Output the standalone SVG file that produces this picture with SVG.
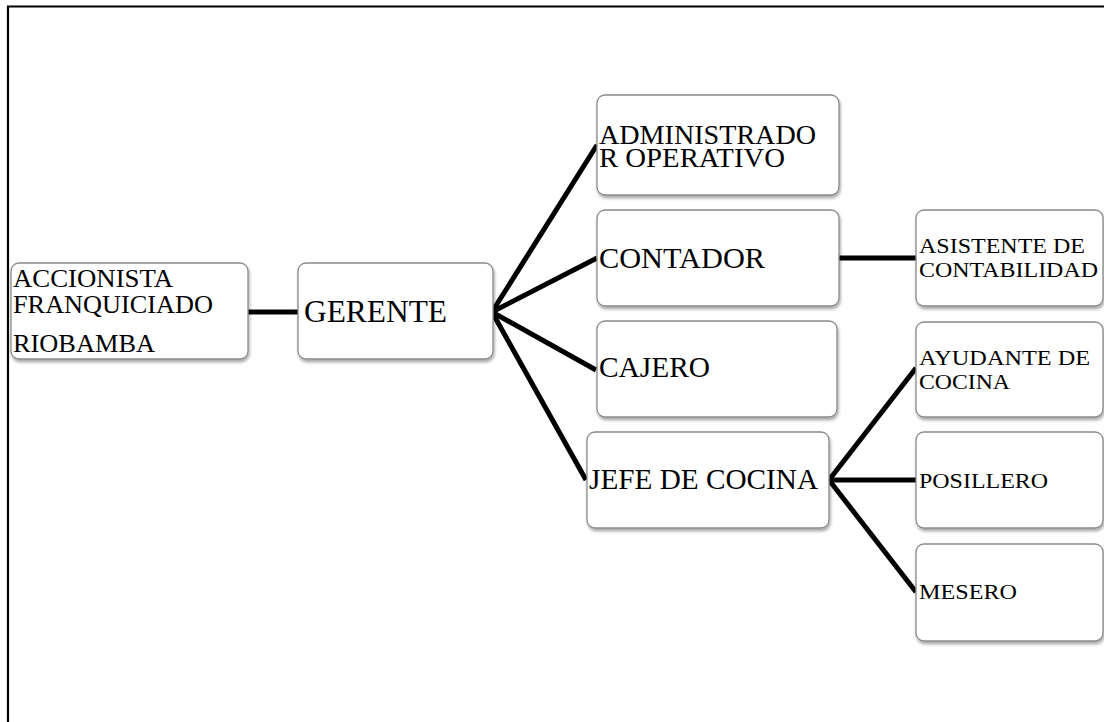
<svg xmlns="http://www.w3.org/2000/svg" width="1104" height="722" viewBox="0 0 1104 722">
<defs>
<filter id="sh" x="-10%" y="-10%" width="125%" height="130%">
<feDropShadow dx="1" dy="2.5" stdDeviation="1.5" flood-color="#000" flood-opacity="0.35"/>
</filter>
</defs>
<style>
.box{fill:#fff;stroke:#8a8a8a;stroke-width:1.3;filter:url(#sh)}
.c{stroke:#000;stroke-width:5;fill:none;stroke-linecap:butt}
text{font-family:'Liberation Serif','Times New Roman',Times,serif;fill:#000}
</style>
<rect x="0" y="0" width="1104" height="722" fill="#fff"/>
<path d="M8,722 V6.5 H1104" fill="none" stroke="#000" stroke-width="2.2"/>
<g id="connectors">
<line class="c" x1="247" y1="312" x2="299" y2="312"/>
<line class="c" x1="492" y1="312" x2="597" y2="145"/>
<line class="c" x1="492" y1="312" x2="597" y2="258"/>
<line class="c" x1="492" y1="312" x2="596" y2="370"/>
<line class="c" x1="492" y1="312" x2="586" y2="480"/>
<line class="c" x1="839" y1="258" x2="916" y2="258"/>
<line class="c" x1="829" y1="480" x2="916" y2="368"/>
<line class="c" x1="829" y1="480" x2="916" y2="480"/>
<line class="c" x1="829" y1="480" x2="916" y2="592"/>
</g>
<g id="accionista" font-family="Liberation Serif, serif">
<rect class="box" x="11" y="263" width="237" height="96" rx="8"/>
<text font-size="25" x="13" y="287" textLength="160" lengthAdjust="spacingAndGlyphs">ACCIONISTA</text>
<text font-size="25" x="13" y="313" textLength="200" lengthAdjust="spacingAndGlyphs">FRANQUICIADO</text>
<text font-size="25" x="13" y="352" textLength="142" lengthAdjust="spacingAndGlyphs">RIOBAMBA</text>
</g>
<g id="gerente">
<rect class="box" x="298" y="263" width="195" height="96" rx="8"/>
<text font-size="31" x="304" y="322" textLength="143" lengthAdjust="spacingAndGlyphs">GERENTE</text>
</g>
<g id="administrador">
<rect class="box" x="597" y="95" width="242" height="100" rx="8"/>
<text font-size="27" x="599" y="144" textLength="217" lengthAdjust="spacingAndGlyphs">ADMINISTRADO</text>
<text font-size="27" x="599" y="167" textLength="186" lengthAdjust="spacingAndGlyphs">R OPERATIVO</text>
</g>
<g id="contador">
<rect class="box" x="597" y="210" width="242" height="96" rx="8"/>
<text font-size="29" x="599" y="268" textLength="166" lengthAdjust="spacingAndGlyphs">CONTADOR</text>
</g>
<g id="cajero">
<rect class="box" x="597" y="321" width="240" height="96" rx="8"/>
<text font-size="29" x="599" y="377" textLength="111" lengthAdjust="spacingAndGlyphs">CAJERO</text>
</g>
<g id="jefe">
<rect class="box" x="587" y="432" width="242" height="96" rx="8"/>
<text font-size="29" x="589" y="489" textLength="229" lengthAdjust="spacingAndGlyphs">JEFE DE COCINA</text>
</g>
<g id="asistente">
<rect class="box" x="916" y="210" width="187" height="96" rx="8"/>
<text font-size="22" x="919" y="253" textLength="166" lengthAdjust="spacingAndGlyphs">ASISTENTE DE</text>
<text font-size="22" x="919" y="277" textLength="179" lengthAdjust="spacingAndGlyphs">CONTABILIDAD</text>
</g>
<g id="ayudante">
<rect class="box" x="916" y="322" width="187" height="95" rx="8"/>
<text font-size="22" x="919" y="365" textLength="171" lengthAdjust="spacingAndGlyphs">AYUDANTE DE</text>
<text font-size="22" x="919" y="389" textLength="91" lengthAdjust="spacingAndGlyphs">COCINA</text>
</g>
<g id="posillero">
<rect class="box" x="916" y="432" width="187" height="96" rx="8"/>
<text font-size="22" x="919" y="488" textLength="129" lengthAdjust="spacingAndGlyphs">POSILLERO</text>
</g>
<g id="mesero">
<rect class="box" x="916" y="544" width="187" height="97" rx="8"/>
<text font-size="22" x="919" y="599" textLength="98" lengthAdjust="spacingAndGlyphs">MESERO</text>
</g>
</svg>
